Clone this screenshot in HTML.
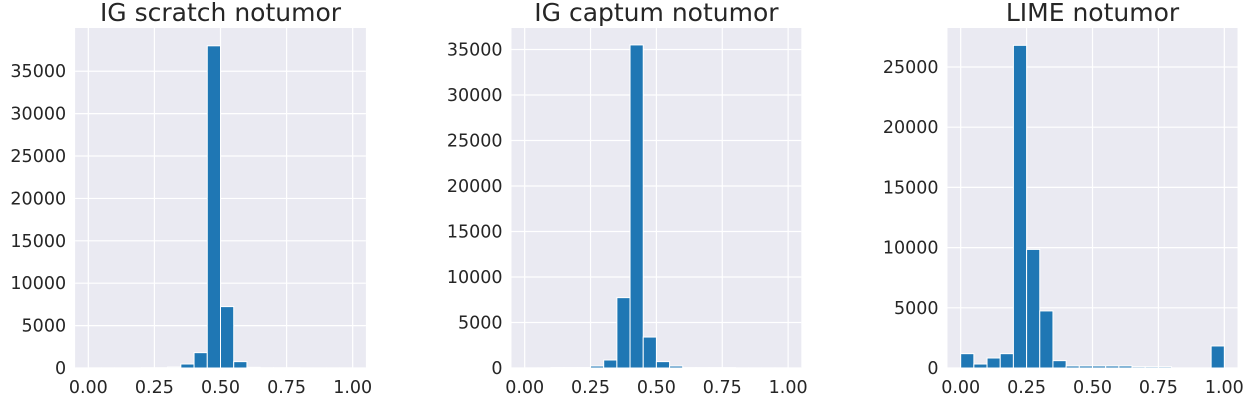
<!DOCTYPE html>
<html><head><meta charset="utf-8"><style>
body{margin:0;background:#fff;}
svg text{font-family:"DejaVu Sans","Liberation Sans",sans-serif;fill:#262626;}
</style></head><body>
<svg id="chart" width="1248" height="406" xmlns="http://www.w3.org/2000/svg"></svg>
<script>
const titles = ["IG scratch notumor","IG captum notumor","LIME notumor"];
const binEdgesStart = 0, binWidth = 0.05;
const countsIGScratch = [10,10,10,10,30,30,120,470,1810,38000,7240,750,80,30,30,30,10,10,10,10];
const countsIGCaptum = [10,10,50,50,50,220,880,7730,35500,3400,700,220,40,40,40,40,10,10,10,10];
const countsLIME = [1190,330,830,1190,26800,9850,4740,610,170,170,170,170,170,100,100,100,0,0,0,1830];
const yTicks1 = [0,5000,10000,15000,20000,25000,30000,35000];
const yTicks2 = [0,5000,10000,15000,20000,25000,30000,35000];
const yTicks3 = [0,5000,10000,15000,20000,25000];
const xTicks = [0,0.25,0.5,0.75,1.0];
const xTickLabels = ["0.00","0.25","0.50","0.75","1.00"];
const yMaxes = [40100,37360,28240];

const svg = document.getElementById('chart');
const NS = "http://www.w3.org/2000/svg";
function mk(tag, attrs){const e=document.createElementNS(NS,tag);for(const k in attrs)e.setAttribute(k,attrs[k]);return e;}
const panels = [
  {left:75.1,right:365.9,counts:countsIGScratch,yt:yTicks1},
  {left:511.5,right:801.3,counts:countsIGCaptum,yt:yTicks2},
  {left:947.5,right:1237.5,counts:countsLIME,yt:yTicks3}
];
const plotTop=28, plotBottom=368;
panels.forEach((p,i)=>{
  const g = mk('g',{});
  
  
  svg.appendChild(g);
  const xs = v => p.left + (v+0.05)/1.1*(p.right-p.left);
  const ys = v => plotBottom - v/yMaxes[i]*(plotBottom-plotTop);
  const bg = mk('rect',{x:p.left,y:plotTop,width:p.right-p.left,height:plotBottom-plotTop,fill:'#eaeaf2'});
  
  
  g.appendChild(bg);
  xTicks.forEach((t,j)=>{
    const l = mk('line',{x1:xs(t),x2:xs(t),y1:plotTop,y2:plotBottom,stroke:'#fff','stroke-width':1.2});
    
    
    g.appendChild(l);
    const tx = mk('text',{x:xs(t),y:plotBottom+25,'text-anchor':'middle','font-size':17.5});
    tx.textContent = xTickLabels[j];
    
    
    g.appendChild(tx);
  });
  p.yt.forEach(t=>{
    const l = mk('line',{x1:p.left,x2:p.right,y1:ys(t),y2:ys(t),stroke:'#fff','stroke-width':1.2});
    
    
    g.appendChild(l);
    const tx = mk('text',{x:p.left-9,y:ys(t)+6,'text-anchor':'end','font-size':17.5});
    tx.textContent = String(t);
    
    
    g.appendChild(tx);
  });
  p.counts.forEach((c,k)=>{
    if(c<=0) return;
    const x0 = xs(binEdgesStart+k*binWidth), x1 = xs(binEdgesStart+(k+1)*binWidth);
    const r = mk('rect',{x:x0,y:ys(c),width:x1-x0,height:plotBottom-ys(c),fill:'#1f77b4',stroke:'#fff','stroke-width':1});
    
    
    g.appendChild(r);
  });
  const tt = mk('text',{x:(p.left+p.right)/2,y:21,'text-anchor':'middle','font-size':25});
  tt.textContent = titles[i];
  
  
  g.appendChild(tt);
});
</script>
</body></html>
